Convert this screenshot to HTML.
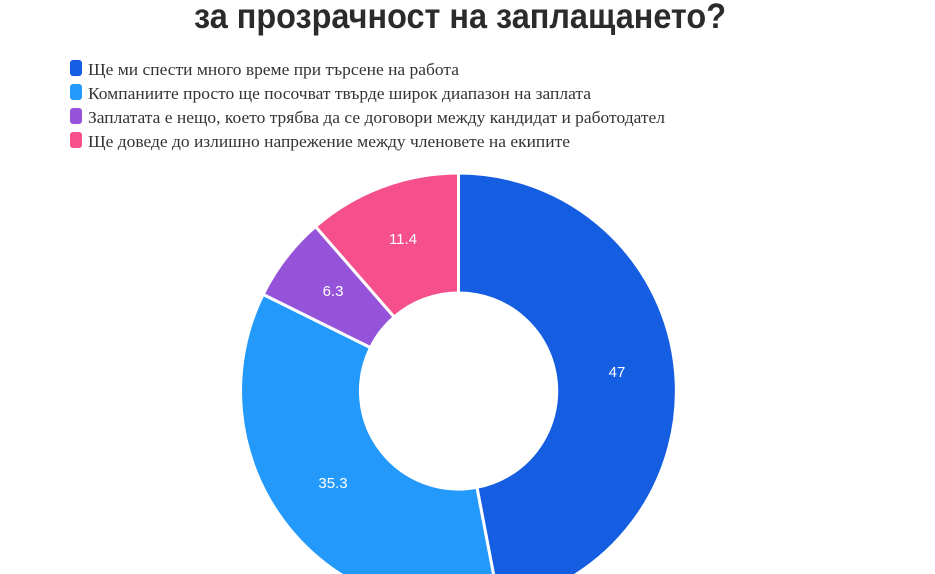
<!DOCTYPE html>
<html><head><meta charset="utf-8"><style>
html,body{margin:0;padding:0;background:#fff;width:935px;height:574px;overflow:hidden;}
svg{display:block;}
</style></head><body>
<svg width="935" height="574" viewBox="0 0 935 574" xmlns="http://www.w3.org/2000/svg">
<text x="460" y="28" text-anchor="middle" font-family="Liberation Sans, sans-serif" font-weight="bold" font-size="35" fill="#2b2b2b" textLength="532" lengthAdjust="spacingAndGlyphs">за прозрачност на заплащането?</text>
<g font-family="Liberation Serif, serif" font-size="17" fill="#333">
<rect x="70" y="60" width="12" height="16" rx="3" fill="#155EE2"/>
<text x="88" y="75" textLength="371" lengthAdjust="spacingAndGlyphs">Ще ми спести много време при търсене на работа</text>
<rect x="70" y="84" width="12" height="16" rx="3" fill="#2399FB"/>
<text x="88" y="99" textLength="503" lengthAdjust="spacingAndGlyphs">Компаниите просто ще посочват твърде широк диапазон на заплата</text>
<rect x="70" y="108" width="12" height="16" rx="3" fill="#9553D9"/>
<text x="88" y="123" textLength="577" lengthAdjust="spacingAndGlyphs">Заплатата е нещо, което трябва да се договори между кандидат и работодател</text>
<rect x="70" y="132" width="12" height="16" rx="3" fill="#F5508C"/>
<text x="88" y="147" textLength="482" lengthAdjust="spacingAndGlyphs">Ще доведе до излишно напрежение между членовете на екипите</text>
</g>
<g stroke="#fff" stroke-width="3" stroke-linejoin="round">
<path fill="#155EE2" d="M458.5,173 A218,218 0 0 1 499.4,605.1 L476.9,487.3 A98,98 0 0 0 458.5,293 Z"/>
<path fill="#2399FB" d="M499.4,605.1 A218,218 0 0 1 263.1,294.4 L370.6,347.6 A98,98 0 0 0 476.9,487.3 Z"/>
<path fill="#9553D9" d="M263.1,294.4 A218,218 0 0 1 315.5,226.5 L394.2,317 A98,98 0 0 0 370.6,347.6 Z"/>
<path fill="#F5508C" d="M315.5,226.5 A218,218 0 0 1 458.5,173 L458.5,293 A98,98 0 0 0 394.2,317 Z"/>
</g>
<g font-family="Liberation Sans, sans-serif" font-size="15" fill="#fff" text-anchor="middle">
<text x="617" y="377">47</text>
<text x="333" y="488">35.3</text>
<text x="333" y="296">6.3</text>
<text x="403" y="244">11.4</text>
</g>
</svg>
</body></html>
